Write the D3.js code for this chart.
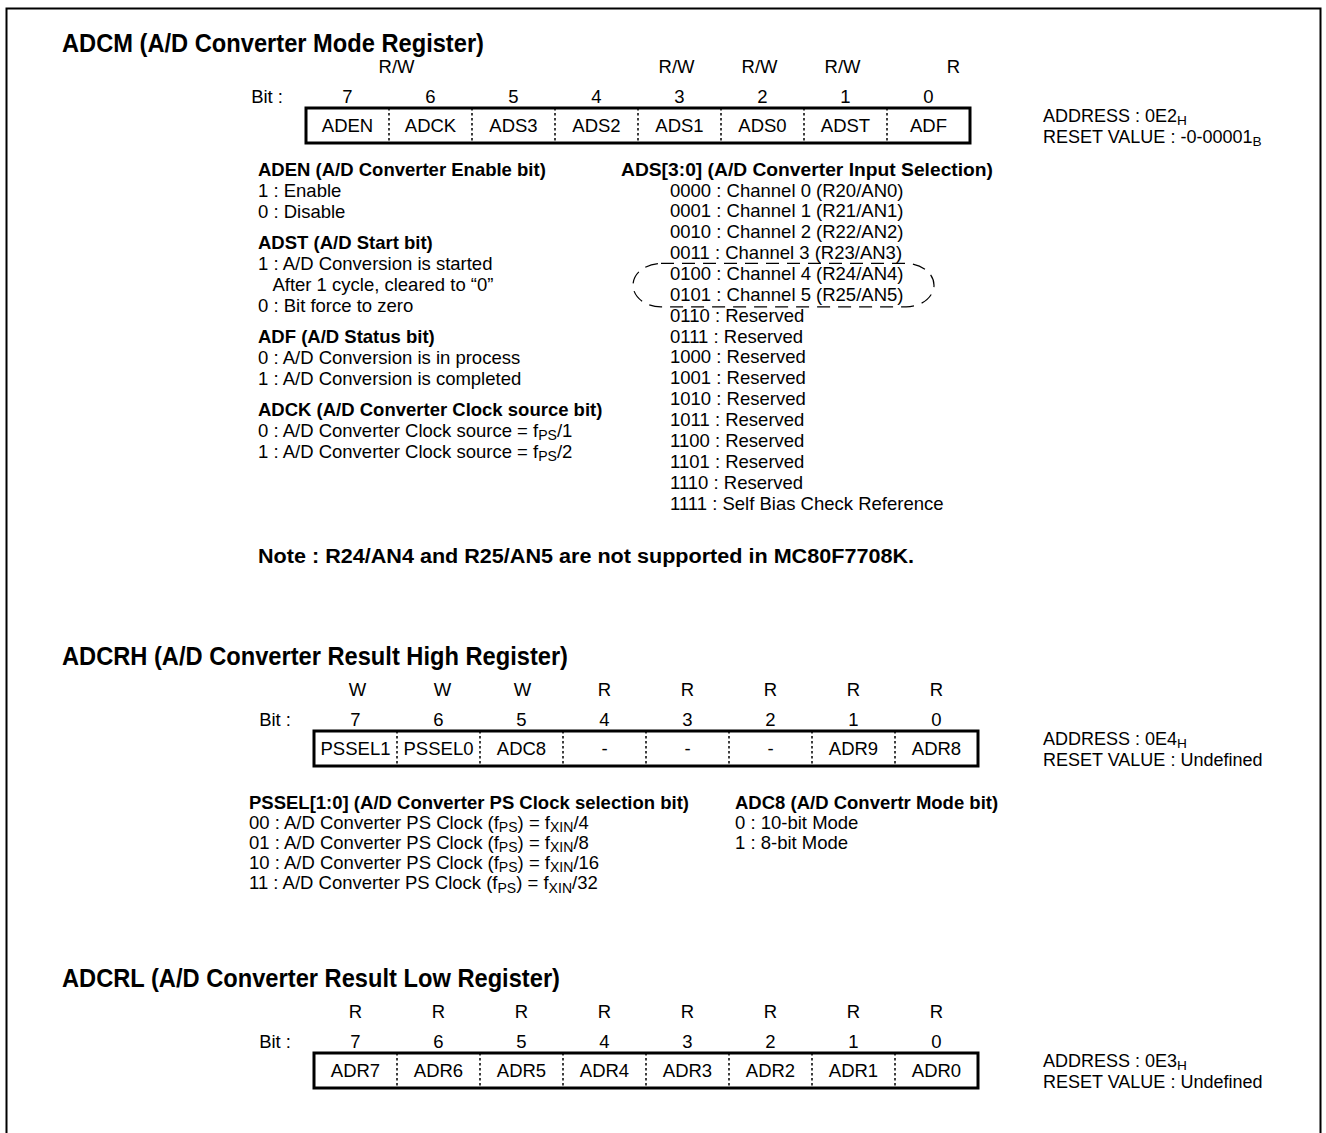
<!DOCTYPE html>
<html>
<head>
<meta charset="utf-8">
<script src="https://cdn.jsdelivr.net/npm/d3@7"></script>
<style>
body{margin:0;background:#fff}
svg{display:block}
text{font-family:"Liberation Sans",Arial,Helvetica,sans-serif;fill:#000}
</style>
</head>
<body>
<div class="container"></div>
<script>
// register content
var bitNumbers = [7,6,5,4,3,2,1,0];

var adcmFields = ["ADEN","ADCK","ADS3","ADS2","ADS1","ADS0","ADST","ADF"];
var adcmAccess = ["R/W","","","","R/W","R/W","R/W","R"];
var adcrhFields = ["PSSEL1","PSSEL0","ADC8","-","-","-","ADR9","ADR8"];
var adcrhAccess = ["W","W","W","R","R","R","R","R"];
var adcrlFields = ["ADR7","ADR6","ADR5","ADR4","ADR3","ADR2","ADR1","ADR0"];
var adcrlAccess = ["R","R","R","R","R","R","R","R"];

var adcmLeftText = [
  {head:"ADEN (A/D Converter Enable bit)", lines:["1 : Enable","0 : Disable"]},
  {head:"ADST (A/D Start bit)", lines:["1 : A/D Conversion is started","   After 1 cycle, cleared to \u201C0\u201D","0 : Bit force to zero"]},
  {head:"ADF (A/D Status bit)", lines:["0 : A/D Conversion is in process","1 : A/D Conversion is completed"]},
  {head:"ADCK (A/D Converter Clock source bit)", lines:["0 : A/D Converter Clock source = f_{PS}/1","1 : A/D Converter Clock source = f_{PS}/2"]}
];
var adsHead = "ADS[3:0] (A/D Converter Input Selection)";
var adsCodes = ["0000","0001","0010","0011","0100","0101","0110","0111",
                "1000","1001","1010","1011","1100","1101","1110","1111"];
var adsMeaning = ["Channel 0 (R20/AN0)","Channel 1 (R21/AN1)","Channel 2 (R22/AN2)","Channel 3 (R23/AN3)",
                  "Channel 4 (R24/AN4)","Channel 5 (R25/AN5)","Reserved","Reserved",
                  "Reserved","Reserved","Reserved","Reserved","Reserved","Reserved","Reserved",
                  "Self Bias Check Reference"];
var circledCodes = ["0100","0101"];
var noteText = "Note : R24/AN4 and R25/AN5 are not supported in MC80F7708K.";

var psselHead = "PSSEL[1:0] (A/D Converter PS Clock selection bit)";
var psselLines = ["00 : A/D Converter PS Clock (f_{PS}) = f_{XIN}/4",
                  "01 : A/D Converter PS Clock (f_{PS}) = f_{XIN}/8",
                  "10 : A/D Converter PS Clock (f_{PS}) = f_{XIN}/16",
                  "11 : A/D Converter PS Clock (f_{PS}) = f_{XIN}/32"];
var adc8Head = "ADC8 (A/D Convertr Mode bit)";
var adc8Lines = ["0 : 10-bit Mode","1 : 8-bit Mode"];

var width = 1326, height = 1133;
var fs = 18.5, titleFs = 25;

var svg = d3.select('.container')
            .append('svg')
            .attr('width',width)
            .attr('height',height);

// outer frame (open at the bottom)
svg.append('path')
   .attr('d','M6.5,' + height + 'V8.5H1320.5V' + height)
   .attr('fill','none')
   .attr('stroke','#000')
   .attr('stroke-width',2);

// text with _{sub} parts
function rich(sel, str, size){
    var parts = str.split(/(_\{[^}]*\})/);
    var down = false;
    parts.forEach(function(p){
        if (!p) return;
        var m = p.match(/^_\{(.*)\}$/);
        if (m) {
            sel.append('tspan').attr('dy', size*0.17).attr('font-size', size*0.76).text(m[1]);
            down = true;
        } else {
            sel.append('tspan').attr('dy', down ? -size*0.17 : 0).text(p);
            down = false;
        }
    });
    return sel;
}

function label(x, y, str, opt){
    opt = opt || {};
    var size = opt.size || fs;
    var t = svg.append('text')
       .attr('x',x)
       .attr('y',y)
       .attr('font-size',size)
       .attr('font-weight',opt.bold ? 'bold' : 'normal')
       .attr('text-anchor',opt.anchor || 'start')
       .style('white-space','pre');
    if (opt.fit) t.attr('textLength',opt.fit).attr('lengthAdjust','spacingAndGlyphs');
    return rich(t, str, size);
}

var registers = [
  {title:"ADCM (A/D Converter Mode Register)", titleW:422, titleY:52, boxX:306, boxY:108, fields:adcmFields, access:adcmAccess,
   nudge:[49,0,0,0,-3,-3,-3,25], address:"0E2_{H}", reset:"-0-00001_{B}"},
  {title:"ADCRH (A/D Converter Result High Register)", titleW:506, titleY:665, boxX:314, boxY:731, fields:adcrhFields, access:adcrhAccess,
   nudge:[2,4,1,0,0,0,0,0], address:"0E4_{H}", reset:"Undefined"},
  {title:"ADCRL (A/D Converter Result Low Register)", titleW:498, titleY:987, boxX:314, boxY:1053, fields:adcrlFields, access:adcrlAccess,
   nudge:[0,0,0,0,0,0,0,0], address:"0E3_{H}", reset:"Undefined"}
];

var cellW = 83, boxH = 35;

registers.forEach(function(r, ri){
    var x = d3.scaleBand().domain(bitNumbers).range([r.boxX, r.boxX + cellW*8]);
    var cx = function(b){ return x(b) + x.bandwidth()/2; };

    label(62, r.titleY, r.title, {bold:true, size:titleFs, fit:r.titleW});

    var g = svg.append('g');

    g.selectAll('text.acc')
     .data(r.access)
     .enter()
     .append('text')
     .attr('x',function(d,i){ return cx(bitNumbers[i]) + r.nudge[i]; })
     .attr('y',r.boxY - 43 + 7.5)
     .attr('font-size',fs)
     .attr('text-anchor','middle')
     .text(function(d){ return d; });

    label(r.boxX - 23, r.boxY - 12 + 6.5, "Bit :", {anchor:'end'});

    g.selectAll('text.bit')
     .data(bitNumbers)
     .enter()
     .append('text')
     .attr('x',function(d){ return cx(d); })
     .attr('y',r.boxY - 12 + 6.5)
     .attr('font-size',fs)
     .attr('text-anchor','middle')
     .text(function(d){ return d; });

    g.selectAll('line.div')
     .data(bitNumbers.slice(1))
     .enter()
     .append('line')
     .attr('x1',function(d){ return x(d); })
     .attr('x2',function(d){ return x(d); })
     .attr('y1',r.boxY)
     .attr('y2',r.boxY + boxH)
     .attr('stroke','#000')
     .attr('stroke-width',1.5)
     .attr('stroke-dasharray','2.5,2.5');

    g.append('rect')
     .attr('x',r.boxX)
     .attr('y',r.boxY)
     .attr('width',cellW*8)
     .attr('height',boxH)
     .attr('fill','none')
     .attr('stroke','#000')
     .attr('stroke-width',3);

    g.selectAll('text.field')
     .data(r.fields)
     .enter()
     .append('text')
     .attr('x',function(d,i){ return cx(bitNumbers[i]); })
     .attr('y',r.boxY + boxH/2 + 6.5)
     .attr('font-size',fs)
     .attr('text-anchor','middle')
     .text(function(d){ return d; });

    label(1043, r.boxY + 8 + 6, "ADDRESS : " + r.address, {size:18});
    label(1043, r.boxY + 29 + 6, "RESET VALUE : " + r.reset, {size:18});
});

// ADCM bit descriptions, left column
var yy = 169;
adcmLeftText.forEach(function(blk, bi){
    if (bi > 0) yy += 31;
    label(258, yy + 6.5, blk.head, {bold:true});
    blk.lines.forEach(function(l){
        yy += 21;
        label(258, yy + 6.5, l);
    });
});

// ADS selection list
label(621, 169 + 6.5, adsHead, {bold:true, fit:372});
var adsY = d3.scaleLinear().domain([0, adsCodes.length - 1]).range([190, 503]);
adsCodes.forEach(function(c, i){
    label(670, adsY(i) + 6.5, c + " : " + adsMeaning[i]);
});

// dashed outline around the unsupported channels
var i0 = adsCodes.indexOf(circledCodes[0]), i1 = adsCodes.indexOf(circledCodes[1]);
var ex0 = 633, ex1 = 934, ey0 = adsY(i0) - 10, ey1 = adsY(i1) + 12.5, rx = 28;
svg.append('rect')
   .attr('x',ex0).attr('y',ey0)
   .attr('width',ex1 - ex0).attr('height',ey1 - ey0)
   .attr('rx',rx).attr('ry',(ey1 - ey0)/2)
   .attr('fill','none')
   .attr('stroke','#000')
   .attr('stroke-width',1.2)
   .attr('stroke-dasharray','13,8');

label(258, 556 + 7, noteText, {bold:true, size:20, fit:656});

// ADCRH descriptions
label(249, 802 + 6.5, psselHead, {bold:true});
psselLines.forEach(function(l, i){
    label(249, 822 + i*20.3 + 6.5, l);
});
label(735, 802 + 6.5, adc8Head, {bold:true});
adc8Lines.forEach(function(l, i){
    label(735, 822 + i*20.3 + 6.5, l);
});
</script>
</body>
</html>
